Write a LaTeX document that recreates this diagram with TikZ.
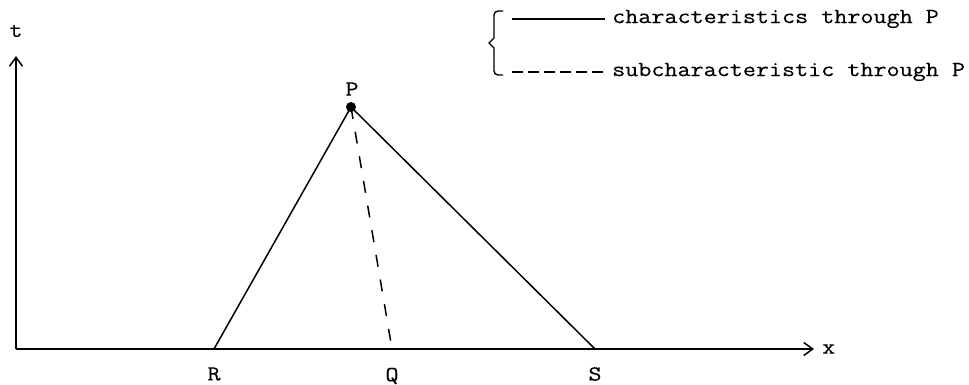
\documentclass[tikz,border=0pt]{standalone}
\usepackage{fontspec}
\newfontfamily\courlike[FakeStretch=1.18,FakeBold=0.3]{Latin Modern Mono}
\usetikzlibrary{arrows.meta}
\begin{document}
\begin{tikzpicture}[x=1pt,y=-1pt,
  lbl/.style={font=\courlike\fontsize{21.5}{24}\selectfont, inner sep=0pt},
  ln/.style={line width=1.5pt},
  axis/.style={line width=1.5pt,-{Straight Barb[length=9pt,width=13pt,line width=1.5pt]}},
  subch/.style={line width=1.5pt,dash pattern=on 12pt off 13pt},
  legdash/.style={line width=1.5pt,dash pattern=on 11pt off 5pt}]
\useasboundingbox (0,0) rectangle (969,385);
\coordinate (O) at (16,349);
\coordinate (tend) at (16,56);
\coordinate (xend) at (814,349);
\coordinate (R) at (214,349);
\coordinate (Q) at (392,349);
\coordinate (S) at (595,349);
\coordinate (P) at (351,107);
\draw[axis] (O) -- (tend);
\draw[axis] (O) -- (xend);
\node[lbl] (tl) at (16,31) {t};
\node[lbl,anchor=west] (xl) at (822,349) {x};
\node[lbl] (Rl) at (214,374) {R};
\node[lbl] (Ql) at (392,376) {Q};
\node[lbl] (Sl) at (595,374) {S};
\node[lbl] (Pl) at (352,89) {P};
\draw[ln] (R) -- (P) -- (S);
\draw[subch] (P) -- (Q);
\fill (P) circle (5pt);
% legend
\draw[line width=1.4pt] (503,11) -- (498,11) to[out=180,in=90] (494,15) -- (494,38) -- (489,43) -- (494,48) -- (494,71) to[out=-90,in=180] (498,75) -- (503,75);
\coordinate (a1) at (512,19);
\coordinate (a2) at (605,19);
\coordinate (b1) at (512,72);
\coordinate (b2) at (605,72);
\draw[ln] (a1) -- (a2);
\draw[legdash] (b1) -- (b2);
\node[lbl,anchor=west] (l1) at (612,19) {characteristics through P};
\node[lbl,anchor=west] (l2) at (612,72) {subcharacteristic through P};
\end{tikzpicture}
\end{document}
